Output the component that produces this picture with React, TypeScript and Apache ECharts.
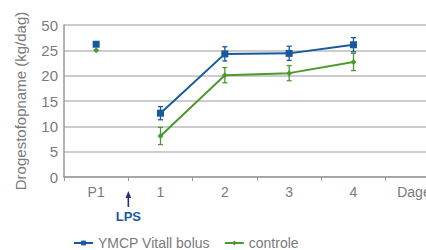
import React, { useEffect, useRef } from "react";
import * as echarts from "echarts";

const categories = ["P1", "1", "2", "3", "4", "Dagen"];
const ymcpP1 = [26.2, null, null, null, null, null];
const controleP1 = [25.0, null, null, null, null, null];
const ymcp = [null, 12.6, 24.3, 24.4, 26.1, null];
const controle = [null, 8.1, 20.1, 20.5, 22.7, null];
const ymcpErr = [0, 1.3, 1.4, 1.4, 1.4, 0];
const controleErr = [0, 1.7, 1.5, 1.5, 1.7, 0];
const yTickLabels: Record<number, string> = { 0: "0", 5: "5", 10: "10", 15: "15", 20: "20", 25: "25", 30: "50" };

const BLUE = "#17599f";
const GREEN = "#4c9a2f";
const GREY = "#7a7a7a";

function errorSeries(name: string, vals: (number | null)[], errs: number[], color: string) {
  const data: number[][] = [];
  vals.forEach((v, i) => {
    if (v != null) data.push([i, v - errs[i], v + errs[i]]);
  });
  return {
    type: "custom",
    name,
    data,
    z: 3,
    renderItem: (params: any, api: any) => {
      const x = api.value(0);
      const lo = api.coord([x, api.value(1)]);
      const hi = api.coord([x, api.value(2)]);
      const w = 2.5;
      const style = { stroke: color, lineWidth: 1.3 };
      return {
        type: "group",
        children: [
          { type: "line", shape: { x1: lo[0], y1: lo[1], x2: hi[0], y2: hi[1] }, style },
          { type: "line", shape: { x1: lo[0] - w, y1: lo[1], x2: lo[0] + w, y2: lo[1] }, style },
          { type: "line", shape: { x1: hi[0] - w, y1: hi[1], x2: hi[0] + w, y2: hi[1] }, style },
        ],
      };
    },
    encode: { x: 0, y: [1, 2] },
    silent: true,
  };
}

export default function App() {
  const ref = useRef<HTMLDivElement>(null);
  useEffect(() => {
    if (!ref.current) return;
    const chart = echarts.init(ref.current, null, { renderer: "svg" });
    const font = "'Liberation Sans', Arial, sans-serif";
    chart.setOption({
      animation: false,
      textStyle: { fontFamily: font },
      grid: { left: 64, top: 25, bottom: 73, right: -24, outerBoundsMode: "none", containLabel: false },
      legend: {
        data: ["YMCP Vitall bolus", "controle"],
        left: 68,
        top: 231,
        itemWidth: 19,
        itemHeight: 6,
        itemGap: 14,
        textStyle: { color: GREY, fontSize: 14, fontFamily: font },
      },
      xAxis: {
        type: "category",
        data: categories,
        boundaryGap: true,
        axisLine: { lineStyle: { color: "#999", width: 1.5 } },
        axisTick: { show: true, alignWithLabel: false, length: 4, lineStyle: { color: "#999" } },
        axisLabel: { color: GREY, fontSize: 14, margin: 8, fontFamily: font },
      },
      yAxis: {
        type: "value",
        min: 0,
        max: 30,
        interval: 5,
        name: "Drogestofopname (kg/dag)",
        nameLocation: "middle",
        nameRotate: 90,
        nameGap: 36,
        nameTextStyle: { color: GREY, fontSize: 15, fontFamily: font },
        axisLine: { show: true, lineStyle: { color: "#999", width: 1.5 } },
        axisTick: { show: false },
        splitLine: { lineStyle: { color: "#bbbbbb", width: 1.5 } },
        axisLabel: {
          color: GREY,
          fontSize: 15,
          margin: 6,
          fontFamily: font,
          formatter: (v: number) => yTickLabels[v] ?? String(v),
        },
      },
      series: [
        {
          name: "YMCP Vitall bolus",
          type: "line",
          data: ymcp,
          color: BLUE,
          symbol: "rect",
          symbolSize: 7,
          lineStyle: { width: 2, color: BLUE },
          itemStyle: { color: BLUE },
          z: 4,
        },
        {
          name: "controle",
          type: "line",
          data: controle,
          color: GREEN,
          symbol: "diamond",
          symbolSize: 6,
          lineStyle: { width: 2, color: GREEN },
          itemStyle: { color: GREEN },
          z: 4,
        },
        {
          name: "ymcpP1",
          type: "line",
          data: ymcpP1,
          symbol: "rect",
          symbolSize: 7,
          itemStyle: { color: BLUE },
          lineStyle: { width: 0 },
        },
        {
          name: "controleP1",
          type: "line",
          data: controleP1,
          symbol: "diamond",
          symbolSize: 6,
          itemStyle: { color: GREEN },
          lineStyle: { width: 0 },
        },
        errorSeries("ymcpErr", ymcp, ymcpErr, BLUE),
        errorSeries("controleErr", controle, controleErr, GREEN),
      ],
    });
    const p0 = chart.convertToPixel({ xAxisIndex: 0 }, 0) as number;
    const p1 = chart.convertToPixel({ xAxisIndex: 0 }, 1) as number;
    const ax = (p0 + p1) / 2;
    chart.setOption({
      graphic: [
        { type: "line", shape: { x1: ax, y1: 196, x2: ax, y2: 207 }, style: { stroke: "#2b2a78", lineWidth: 1.6 } },
        { type: "polygon", shape: { points: [[ax - 2.8, 198], [ax + 2.8, 198], [ax, 191]] }, style: { fill: "#2b2a78" } },
        {
          type: "text",
          x: ax,
          y: 216,
          style: { text: "LPS", fill: BLUE, fontSize: 13, fontWeight: "bold", fontFamily: font, align: "center", verticalAlign: "middle" },
        },
      ],
    });
    return () => chart.dispose();
  }, []);
  return <div ref={ref} style={{ width: 426, height: 250, position: "absolute", left: 0, top: 0 }} />;
}
